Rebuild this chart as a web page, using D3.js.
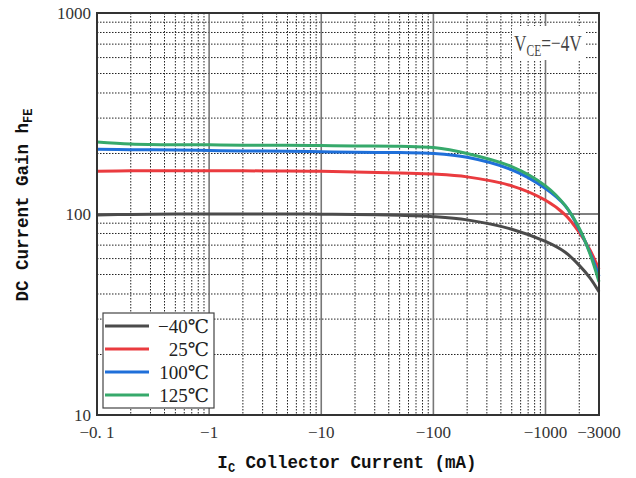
<!DOCTYPE html>
<html>
<head>
<meta charset="utf-8">
<script src="https://cdn.jsdelivr.net/npm/d3@7"></script>
<style>
  body { margin: 0; background: #fff; }
  svg { display: block; }
</style>
</head>
<body>
<div id="chart"></div>
<script>
// data, |Ic| in mA
var currents   = [0.1, 0.2, 0.5, 1, 2, 5, 10, 20, 50, 100, 200, 500, 1000, 1500, 2000, 2500, 3000];
var gainM40    = [99, 99.5, 100, 100, 100, 100, 99.8, 99.5, 98.5, 97, 93.5, 84, 73, 64.5, 55.5, 48, 41];
var gain25     = [163, 164, 164, 164, 164, 163.5, 163, 162, 160, 158, 153, 138, 117, 99, 81, 66, 53];
var gain100    = [210, 209, 208, 207, 206, 205, 204, 203, 202, 200, 191.5, 166, 134, 110, 84, 64, 49];
var gain125    = [228, 223, 221, 221, 220, 220, 219, 218, 217, 214, 200, 172, 138, 110, 85, 63, 46];
var seriesNames = ["\u221240\u2103", "25\u2103", "100\u2103", "125\u2103"];
var seriesColors = ["#4b4b4b", "#ea3b3f", "#1f6fd9", "#36a96b"];
var xTickValues = [0.1, 1, 10, 100, 1000, 3000];
var xTickLabels = ["\u22120. 1", "\u22121", "\u221210", "\u2212100", "\u22121000", "\u22123000"];
var yTickValues = [10, 100, 1000];

var W = 636, H = 478;
var pLeft = 97, pRight = 599, pTop = 13, pBottom = 415;

var svg = d3.select('#chart').append('svg')
    .attr('width', W).attr('height', H);

var x = d3.scaleLog().domain([0.1, 3000]).range([pLeft, pRight]);
var y = d3.scaleLog().domain([10, 1000]).range([pBottom, pTop]);

// minor grid values
var xMinor = [];
[0.1, 1, 10, 100, 1000].forEach(function (d) {
    for (var k = 2; k <= 9; k++) {
        if (d * k < 3000) xMinor.push(d * k);
    }
});
var yMinor = [];
[10, 100].forEach(function (d) {
    for (var k = 2; k <= 9; k++) yMinor.push(d * k);
});

var grid = svg.append('g');
grid.selectAll('line.vminor').data(xMinor).enter().append('line')
    .attr('x1', function (d) { return x(d); })
    .attr('x2', function (d) { return x(d); })
    .attr('y1', pTop).attr('y2', pBottom)
    .attr('stroke', '#222').attr('stroke-width', 1)
    .attr('stroke-dasharray', '1.5,1.5');
grid.selectAll('line.hminor').data(yMinor).enter().append('line')
    .attr('y1', function (d) { return y(d); })
    .attr('y2', function (d) { return y(d); })
    .attr('x1', pLeft).attr('x2', pRight)
    .attr('stroke', '#222').attr('stroke-width', 1)
    .attr('stroke-dasharray', '1.5,1.5');
// decade lines
grid.selectAll('line.vmajor').data([1, 10, 100, 1000]).enter().append('line')
    .attr('x1', function (d) { return x(d); })
    .attr('x2', function (d) { return x(d); })
    .attr('y1', pTop).attr('y2', pBottom)
    .attr('stroke', '#777').attr('stroke-width', 1.6);
grid.append('line')
    .attr('x1', pLeft).attr('x2', pRight)
    .attr('y1', y(100)).attr('y2', y(100))
    .attr('stroke', '#000').attr('stroke-width', 1.2);

// V_CE label with white box (condensed serif like the original)
svg.append('rect')
    .attr('x', 512).attr('y', 26).attr('width', 73).attr('height', 34)
    .attr('fill', '#fff');
var vce = svg.append('text')
    .attr('transform', 'translate(514,51) scale(0.72,1)')
    .style('font-family', '"Liberation Serif", "DejaVu Serif", serif')
    .style('font-size', '24px')
    .attr('fill', '#444');
vce.append('tspan').text('V');
vce.append('tspan').text('CE').attr('dy', 5).style('font-size', '16px');
vce.append('tspan').text('=\u22124V').attr('dy', -5);

// curves
var allSeries = [gainM40, gain25, gain100, gain125];
var line = d3.line()
    .x(function (d) { return x(d[0]); })
    .y(function (d) { return y(d[1]); })
    .curve(d3.curveCatmullRom.alpha(0.5));

svg.append('g').selectAll('path').data(allSeries).enter().append('path')
    .attr('d', function (s) { return line(d3.zip(currents, s)); })
    .attr('fill', 'none')
    .attr('stroke', function (s, i) { return seriesColors[i]; })
    .attr('stroke-width', 3);

// frame
svg.append('rect')
    .attr('x', pLeft).attr('y', pTop)
    .attr('width', pRight - pLeft).attr('height', pBottom - pTop)
    .attr('fill', 'none').attr('stroke', '#333').attr('stroke-width', 2);

// tick labels
var tickFont = '"Liberation Serif", "DejaVu Serif", serif';
svg.append('g').selectAll('text').data(xTickValues).enter().append('text')
    .attr('x', function (d) { return x(d); })
    .attr('y', 438)
    .attr('text-anchor', 'middle')
    .style('font-family', tickFont).style('font-size', '17px')
    .attr('fill', '#333')
    .text(function (d, i) { return xTickLabels[i]; });
svg.append('g').selectAll('text').data(yTickValues).enter().append('text')
    .attr('x', 91)
    .attr('y', function (d) { return y(d) + 6; })
    .attr('text-anchor', 'end')
    .style('font-family', tickFont).style('font-size', '17px')
    .attr('fill', '#333')
    .text(function (d) { return d; });

// axis titles
var titleFont = '"Liberation Mono", "DejaVu Sans Mono", monospace';
var xt = svg.append('text')
    .attr('x', 347).attr('y', 468)
    .attr('text-anchor', 'middle')
    .style('font-family', titleFont).style('font-size', '17.5px')
    .style('font-weight', 'bold').attr('fill', '#111');
xt.append('tspan').text('I');
xt.append('tspan').text('C').attr('dy', 4).style('font-size', '12px');
xt.append('tspan').text(' Collector Current (mA)').attr('dy', -4);

var yt = svg.append('text')
    .attr('transform', 'translate(28,' + 205 + ') rotate(-90)')
    .attr('text-anchor', 'middle')
    .style('font-family', titleFont).style('font-size', '17.5px')
    .style('font-weight', 'bold').attr('fill', '#111');
yt.append('tspan').text('DC Current Gain h');
yt.append('tspan').text('FE').attr('dy', 4).style('font-size', '12px');

// legend
var lg = svg.append('g');
lg.append('rect')
    .attr('x', 103).attr('y', 313).attr('width', 111).attr('height', 95)
    .attr('fill', '#fff').attr('stroke', '#444').attr('stroke-width', 1.2);
var items = lg.selectAll('g').data(seriesNames).enter().append('g')
    .attr('transform', function (d, i) { return 'translate(0,' + (326 + i * 23) + ')'; });
items.append('line')
    .attr('x1', 105).attr('x2', 149).attr('y1', 0).attr('y2', 0)
    .attr('stroke', function (d, i) { return seriesColors[i]; })
    .attr('stroke-width', 3);
items.append('text')
    .attr('x', 209).attr('y', 7)
    .attr('text-anchor', 'end')
    .style('font-family', tickFont).style('font-size', '19px')
    .attr('fill', '#222')
    .text(function (d) { return d; });
</script>
</body>
</html>
